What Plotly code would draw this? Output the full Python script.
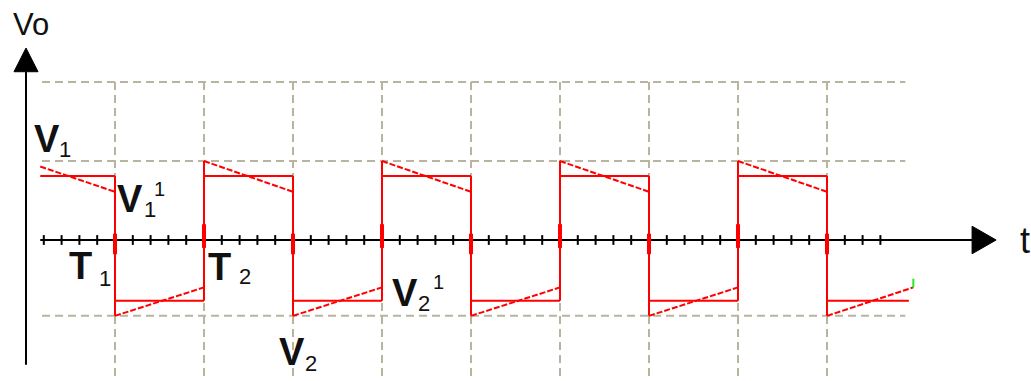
import plotly.graph_objects as go

# ---- waveform data (time in units of half-period T, voltage in units of V1) ----
seg_start = [0.16, 1, 2, 3, 4, 5, 6, 7, 8, 9]
seg_end = [1, 2, 3, 4, 5, 6, 7, 8, 9, 9.92]
flat_level = [0.81, -0.77, 0.81, -0.77, 0.81, -0.77, 0.81, -0.77, 0.81, -0.77]

tilt_x0 = [0.16, 1, 2, 3, 4, 5, 6, 7, 8, 9]
tilt_x1 = [1, 2, 3, 4, 5, 6, 7, 8, 9, 9.97]
tilt_y0 = [0.93, -0.96, 1.0, -0.96, 1.0, -0.96, 1.0, -0.96, 1.0, -0.96]
tilt_y1 = [0.61, -0.60, 0.61, -0.60, 0.61, -0.60, 0.61, -0.60, 0.61, -0.60]

edge_t = [1, 2, 3, 4, 5, 6, 7, 8, 9]
edge_top = [0.81, 1.0, 0.81, 1.0, 0.81, 1.0, 0.81, 1.0, 0.81]
edge_bottom = [-0.96, -0.77, -0.96, -0.77, -0.96, -0.77, -0.96, -0.77, -0.96]
edge_thick_top = [0.08, 0.20, 0.08, 0.20, 0.08, 0.20, 0.08, 0.20, 0.08]
edge_thick_bottom = [-0.18, -0.10, -0.18, -0.10, -0.18, -0.10, -0.18, -0.10, -0.18]

end_mark_x = [9.97, 9.97]
end_mark_y = [-0.60, -0.49]

# ---- grid and axes ----
grid_t = [1, 2, 3, 4, 5, 6, 7, 8, 9]
grid_v = [2.0, 1.0, -0.96]
grid_t_min, grid_t_max = 0.18, 9.88
grid_v_min = -1.8

tick_t = [round(0.2 * k, 2) for k in range(1, 49)]
axis_t_start, axis_t_end, arrow_t_tip = 0.16, 10.63, 10.9
axis_v_bottom, axis_v_end, arrow_v_tip = -1.58, 2.13, 2.43

RED = "#ff0000"
GRID = "#b8b4a0"
INK = "#000000"

fig = go.Figure()

# dashed grid
gx, gy = [], []
for v in grid_v:
    gx += [grid_t_min, grid_t_max, None]
    gy += [v, v, None]
for t in grid_t:
    gx += [t, t, None]
    gy += [grid_v[0], grid_v_min, None]
fig.add_trace(go.Scatter(x=gx, y=gy, mode="lines",
                         line=dict(color=GRID, width=2, dash="8px,5px")))

# time axis with ticks and arrow
fig.add_trace(go.Scatter(x=[axis_t_start, axis_t_end], y=[0, 0], mode="lines",
                         line=dict(color=INK, width=2)))
fig.add_trace(go.Scatter(x=tick_t, y=[0] * len(tick_t), mode="markers",
                         marker=dict(symbol="line-ns-open", size=7, color=INK,
                                     line=dict(color=INK, width=2))))
fig.add_trace(go.Scatter(x=[axis_t_end, arrow_t_tip, axis_t_end, axis_t_end],
                         y=[0.175, 0, -0.175, 0.175], mode="lines", fill="toself",
                         fillcolor=INK, line=dict(color=INK, width=1)))

# voltage axis with arrow
fig.add_trace(go.Scatter(x=[0, 0], y=[axis_v_bottom, axis_v_end], mode="lines",
                         line=dict(color=INK, width=2)))
fig.add_trace(go.Scatter(x=[-0.135, 0, 0.135, -0.135],
                         y=[axis_v_end, arrow_v_tip, axis_v_end, axis_v_end],
                         mode="lines", fill="toself", fillcolor=INK,
                         line=dict(color=INK, width=1)))

# ideal square wave (flat levels)
fx, fy = [], []
for a, b, v in zip(seg_start, seg_end, flat_level):
    fx += [a, b, None]
    fy += [v, v, None]
fig.add_trace(go.Scatter(x=fx, y=fy, mode="lines", line=dict(color=RED, width=2)))

# switching edges
ex, ey = [], []
for t, top, bot in zip(edge_t, edge_top, edge_bottom):
    ex += [t, t, None]
    ey += [top, bot, None]
fig.add_trace(go.Scatter(x=ex, y=ey, mode="lines", line=dict(color=RED, width=2)))

tx, ty = [], []
for t, top, bot in zip(edge_t, edge_thick_top, edge_thick_bottom):
    tx += [t, t, None]
    ty += [top, bot, None]
fig.add_trace(go.Scatter(x=tx, y=ty, mode="lines", line=dict(color=RED, width=4)))

# tilted output (decay during each half-period)
sx, sy = [], []
for a, b, v0, v1 in zip(tilt_x0, tilt_x1, tilt_y0, tilt_y1):
    sx += [a, b, None]
    sy += [v0, v1, None]
fig.add_trace(go.Scatter(x=sx, y=sy, mode="lines",
                         line=dict(color=RED, width=2, dash="6px,2px")))

fig.add_trace(go.Scatter(x=end_mark_x, y=end_mark_y, mode="lines",
                         line=dict(color="#22ee22", width=2)))

# ---- labels ----
FONT = "Liberation Sans, Arial, sans-serif"


def label(text, x, y, size, bold=False, color="#111111"):
    fig.add_annotation(x=x, y=y, text=f"<b>{text}</b>" if bold else text,
                       showarrow=False, xanchor="left", yanchor="middle",
                       borderpad=0, font=dict(family=FONT, size=size, color=color))


label("Vo", -0.16, 2.73, 31)
label("t", 11.16, -0.01, 36)

label("V", 0.08, 1.28, 38, bold=True)
label("1", 0.36, 1.14, 22)

label("V", 1.01, 0.52, 38, bold=True)
label("1", 1.31, 0.38, 22)
label("1", 1.43, 0.65, 20)

label("T", 0.47, -0.33, 38, bold=True)
label("1", 0.81, -0.49, 22)

label("T", 2.03, -0.34, 38, bold=True)
label("2", 2.38, -0.46, 22)

label("V", 2.83, -1.42, 38, bold=True)
label("2", 3.12, -1.56, 22)

label("V", 4.10, -0.67, 38, bold=True)
label("2", 4.39, -0.80, 22)
label("1", 4.56, -0.53, 20)

fig.update_layout(
    width=1031, height=381,
    margin=dict(l=0, r=0, t=0, b=0),
    paper_bgcolor="white", plot_bgcolor="white",
    showlegend=False, hovermode=False,
    xaxis=dict(range=[-26 / 89, 1005 / 89], visible=False, fixedrange=True),
    yaxis=dict(range=[-141 / 79, 240 / 79], visible=False, fixedrange=True),
)

fig.write_html("out.html")
